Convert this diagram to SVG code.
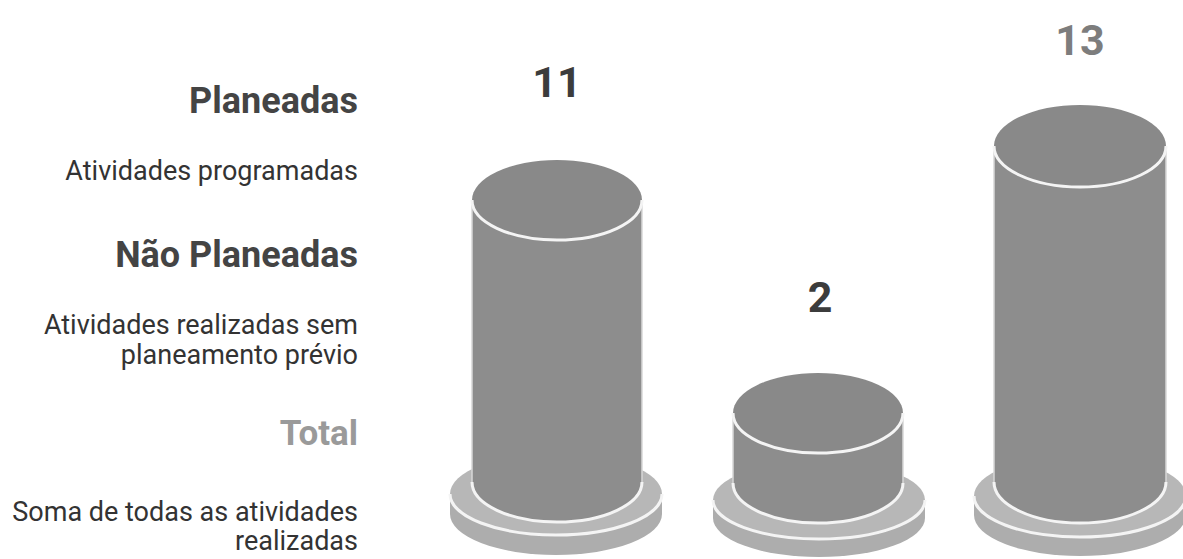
<svg xmlns="http://www.w3.org/2000/svg" width="1183" height="559" viewBox="0 0 1183 559">
<style>
.h{font-family:Roboto,"Liberation Sans",sans-serif;font-weight:700;fill:#444;text-anchor:end}
.d{font-family:Roboto,"Liberation Sans",sans-serif;font-weight:400;fill:#333;text-anchor:end;font-size:27px}
.n{font-family:Roboto,"Liberation Sans",sans-serif;font-weight:700;fill:#3c3c3c;text-anchor:middle;font-size:43px}
.rim{fill:#adadad}
.face{fill:#b7b7b7}
.body{fill:#8d8d8d}
.top{fill:#898989}
.wl{fill:none;stroke:#f4f4f4;stroke-width:3}
.ws{fill:none;stroke:#d8d8d8;stroke-width:1.5}
</style>
<rect width="1183" height="559" fill="#ffffff"/>
<g id="legend">
<text class="h" x="358" y="113" font-size="36">Planeadas</text>
<text class="d" x="358" y="180">Atividades programadas</text>
<text class="h" x="358" y="267" font-size="36">Não Planeadas</text>
<text class="d" x="358" y="334">Atividades realizadas sem</text>
<text class="d" x="358" y="364">planeamento prévio</text>
<text class="h" x="358" y="445" font-size="35" style="fill:#9a9a9a">Total</text>
<text class="d" x="358" y="521">Soma de todas as atividades</text>
<text class="d" x="358" y="550">realizadas</text>
</g>
<g id="bar-planeadas">
<ellipse class="rim" cx="556" cy="514" rx="106" ry="41"/>
<rect class="rim" x="450" y="494" width="212" height="20"/>
<ellipse class="face" cx="556" cy="494" rx="106" ry="41"/>
<path class="wl" d="M450,494 A106,41 0 0 0 662,494"/>
<path class="body" d="M472,200 L472,482 A85,40 0 0 0 642,482 L642,200 Z"/>
<path class="wl" d="M472,482 A85,40 0 0 0 642,482"/>
<path class="ws" d="M472,200 L472,482 M642,200 L642,482"/>
<ellipse class="top" cx="557" cy="200" rx="85" ry="40"/>
<path class="wl" d="M472,200 A85,40 0 0 0 642,200"/>
<text class="n" x="557" y="97">11</text>
</g>
<g id="bar-nao-planeadas">
<ellipse class="rim" cx="819" cy="518" rx="106" ry="39"/>
<rect class="rim" x="713" y="500" width="212" height="18"/>
<ellipse class="face" cx="819" cy="500" rx="106" ry="39"/>
<path class="wl" d="M713,500 A106,39 0 0 0 925,500"/>
<path class="body" d="M733,413 L733,483 A85,40 0 0 0 903,483 L903,413 Z"/>
<path class="wl" d="M733,483 A85,40 0 0 0 903,483"/>
<path class="ws" d="M733,413 L733,483 M903,413 L903,483"/>
<ellipse class="top" cx="818" cy="413" rx="85" ry="40"/>
<path class="wl" d="M733,413 A85,40 0 0 0 903,413"/>
<text class="n" x="820" y="312">2</text>
</g>
<g id="bar-total">
<ellipse class="rim" cx="1080" cy="515" rx="106" ry="41"/>
<rect class="rim" x="974" y="496" width="212" height="19"/>
<ellipse class="face" cx="1080" cy="496" rx="106" ry="41"/>
<path class="wl" d="M974,496 A106,41 0 0 0 1186,496"/>
<path class="body" d="M994,146 L994,482 A86,41 0 0 0 1166,482 L1166,146 Z"/>
<path class="wl" d="M994,482 A86,41 0 0 0 1166,482"/>
<path class="ws" d="M994,146 L994,482 M1166,146 L1166,482"/>
<ellipse class="top" cx="1080" cy="146" rx="86" ry="41"/>
<path class="wl" d="M994,146 A86,41 0 0 0 1166,146"/>
<text class="n" x="1080" y="55" style="fill:#7d7d7d">13</text>
</g>
<g id="connectors"/>
</svg>
